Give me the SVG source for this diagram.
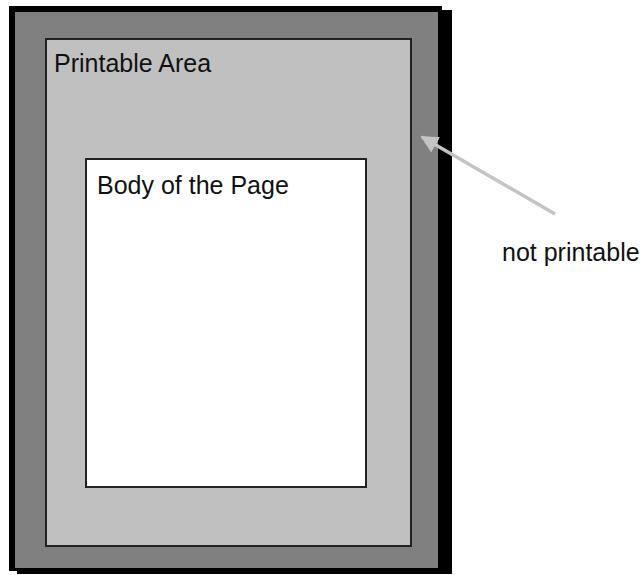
<svg xmlns="http://www.w3.org/2000/svg" width="641" height="575" viewBox="0 0 641 575">
<style>
.t{font-family:"Liberation Sans",Arial,sans-serif;font-size:25px;fill:#111}
.box{stroke:#222;stroke-width:2}
</style>
<defs>
<marker id="ah" markerWidth="5" markerHeight="5" refX="4.5" refY="2.5" orient="auto" markerUnits="strokeWidth">
<path d="M0,0 L5,2.5 L0,5 Z" fill="#c4c4c4"/>
</marker>
</defs>
<rect width="641" height="575" fill="#fff"/>
<g id="page">
<rect x="17" y="10" width="435" height="564" fill="#000"/>
<rect x="9" y="6" width="433" height="565" fill="#000"/>
<rect x="15" y="12" width="423" height="556" fill="#808080"/>
</g>
<g id="printable-area">
<rect class="box" x="46" y="39" width="365" height="507" fill="#c0c0c0"/>
<text class="t" x="54" y="72">Printable Area</text>
</g>
<g id="body">
<rect class="box" x="86" y="159" width="280" height="328" fill="#fff"/>
<text class="t" x="97" y="194">Body of the Page</text>
</g>
<g id="label">
<text class="t" x="502" y="261">not printable</text>
</g>
<g id="connectors">
<line x1="555" y1="214" x2="422" y2="137" stroke="#c4c4c4" stroke-width="3.5" marker-end="url(#ah)"/>
</g>
</svg>
